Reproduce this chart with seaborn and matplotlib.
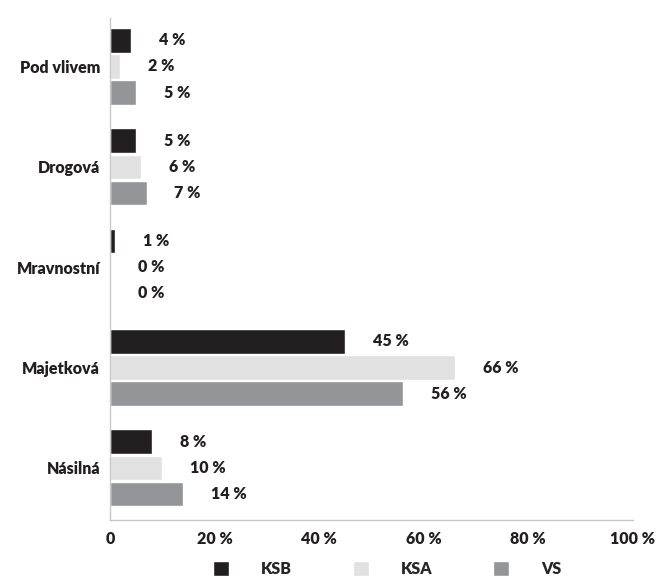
import matplotlib
matplotlib.use("Agg")
import matplotlib.pyplot as plt
import seaborn as sns
import pandas as pd

categories = ["Pod vlivem", "Drogová", "Mravnostní", "Majetková", "Násilná"]
series = ["KSB", "KSA", "VS"]
ksb = [4, 5, 1, 45, 8]
ksa = [2, 6, 0, 66, 10]
vs = [5, 7, 0, 56, 14]
xticks = [0, 20, 40, 60, 80, 100]
xtick_labels = ["0", "20 %", "40 %", "60 %", "80 %", "100 %"]
colors = ["#231f20", "#e1e1e2", "#939598"]

rows = []
for name, vals in zip(series, [ksb, ksa, vs]):
    for c, v in zip(categories, vals):
        rows.append({"cat": c, "series": name, "value": v})
df = pd.DataFrame(rows)

W = "heavy"
FS = 11.5

sns.set_style("white")
plt.rcParams["font.family"] = ["Lato", "DejaVu Sans"]
plt.rcParams["font.weight"] = W

fig = plt.figure(figsize=(6.62, 5.82), dpi=100)
ax = fig.add_axes([0.166, 0.1065, 0.79, 0.862])

sns.barplot(data=df, y="cat", x="value", hue="series", orient="h",
            order=categories, hue_order=series, palette=colors,
            width=0.78, gap=0.06, ax=ax, saturation=1, legend=True)

for cont, vals in zip(ax.containers, [ksb, ksa, vs]):
    ax.bar_label(cont, labels=[f"{v} %" for v in vals], padding=20,
                 fontsize=FS, fontweight=W, color="#231f20")

ax.set_xlim(0, 100)
ax.set_ylim(4.52, -0.48)
ax.set_xticks(xticks)
ax.set_xticklabels(xtick_labels, fontsize=FS, fontweight=W, color="#231f20")
ax.tick_params(axis="x", direction="in", length=10, width=1, color="#c8c8c8", pad=8)
ax.tick_params(axis="y", length=0, pad=7, labelsize=FS, labelcolor="#231f20")
for t in ax.get_yticklabels():
    t.set_fontweight(W)
ax.set_xlabel("")
ax.set_ylabel("")
for s in ["top", "right"]:
    ax.spines[s].set_visible(False)
for s in ["left", "bottom"]:
    ax.spines[s].set_color("#c8c8c8")
    ax.spines[s].set_linewidth(1)

handles, labels = ax.get_legend_handles_labels()
ax.get_legend().remove()
fig.legend(handles, labels, loc="lower center", bbox_to_anchor=(0.585, -0.016),
           ncol=3, frameon=False, handlelength=1.0, handleheight=1.0,
           handletextpad=2.0, columnspacing=3.8,
           prop={"size": FS, "weight": W})

fig.savefig("out.png", dpi=100)
